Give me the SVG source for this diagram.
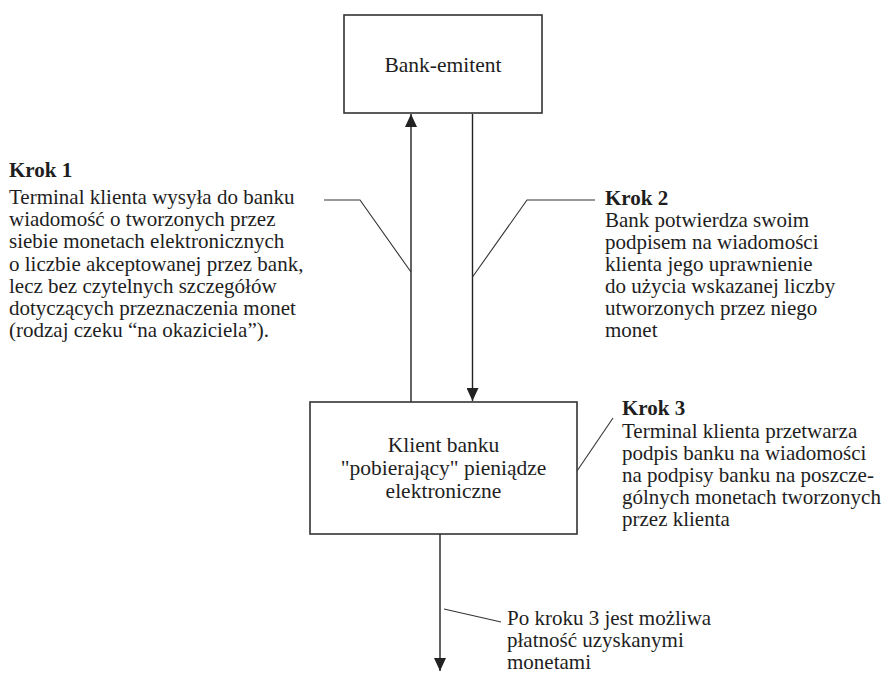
<svg xmlns="http://www.w3.org/2000/svg" width="886" height="673" viewBox="0 0 886 673">
<style>
  .box { fill: #ffffff; stroke: #333333; stroke-width: 1.6; }
  .arrow { fill: none; stroke: #222222; stroke-width: 1.4; }
  .leader { fill: none; stroke: #333333; stroke-width: 1.1; }
  .txt { font-family: "Liberation Serif", "Times New Roman", serif; fill: #1e1e1e; }
  .t { font-size: 21px; }
  .h { font-size: 21px; font-weight: bold; }
  .bt { font-size: 21.5px; text-anchor: middle; }
</style>
<defs>
  <marker id="ah" viewBox="0 0 13 12" refX="13" refY="6" markerWidth="13" markerHeight="12" markerUnits="userSpaceOnUse" orient="auto">
    <path d="M0,0 L13,6 L0,12 Z" fill="#222222"/>
  </marker>
</defs>
<rect width="886" height="673" fill="#ffffff"/>

<g id="connectors">
  <line class="arrow" x1="411" y1="402" x2="411" y2="114" marker-end="url(#ah)"/>
  <line class="arrow" x1="472.5" y1="114" x2="472.5" y2="401" marker-end="url(#ah)"/>
  <line class="arrow" x1="440" y1="534" x2="440" y2="671" marker-end="url(#ah)"/>
  <polyline class="leader" points="324,200 360,200 411,272"/>
  <polyline class="leader" points="595,200 527,200 472.5,277"/>
  <line class="leader" x1="577" y1="471" x2="613" y2="418"/>
  <line class="leader" x1="444" y1="609" x2="501" y2="622"/>
</g>

<g id="bank-emitent" class="txt">
  <rect class="box" x="344" y="15" width="198" height="98"/>
  <text class="bt" x="443" y="72">Bank-emitent</text>
</g>

<g id="klient-banku" class="txt">
  <rect class="box" x="310" y="402" width="267" height="132"/>
  <text class="bt" x="443.5" y="452">Klient banku</text>
  <text class="bt" x="443.5" y="475">"pobierający" pieniądze</text>
  <text class="bt" x="443.5" y="498">elektroniczne</text>
</g>

<g id="krok1" class="txt">
  <text class="h" x="9" y="177">Krok 1</text>
  <text class="t" x="9" y="204">Terminal klienta wysyła do banku</text>
  <text class="t" x="9" y="226">wiadomość o tworzonych przez</text>
  <text class="t" x="9" y="248">siebie monetach elektronicznych</text>
  <text class="t" x="9" y="270.5">o liczbie akceptowanej przez bank,</text>
  <text class="t" x="9" y="293">lecz bez czytelnych szczegółów</text>
  <text class="t" x="9" y="315">dotyczących przeznaczenia monet</text>
  <text class="t" x="9" y="337">(rodzaj czeku “na okaziciela”).</text>
</g>

<g id="krok2" class="txt">
  <text class="h" x="605" y="205">Krok 2</text>
  <text class="t" x="605" y="227">Bank potwierdza swoim</text>
  <text class="t" x="605" y="249">podpisem na wiadomości</text>
  <text class="t" x="605" y="271">klienta jego uprawnienie</text>
  <text class="t" x="605" y="293">do użycia wskazanej liczby</text>
  <text class="t" x="605" y="315">utworzonych przez niego</text>
  <text class="t" x="605" y="337">monet</text>
</g>

<g id="krok3" class="txt">
  <text class="h" x="622" y="415">Krok 3</text>
  <text class="t" x="622" y="438">Terminal klienta przetwarza</text>
  <text class="t" x="622" y="460">podpis banku na wiadomości</text>
  <text class="t" x="622" y="482">na podpisy banku na poszcze-</text>
  <text class="t" x="622" y="504">gólnych monetach tworzonych</text>
  <text class="t" x="622" y="526">przez klienta</text>
</g>

<g id="po-kroku-3" class="txt">
  <text class="t" x="507" y="625">Po kroku 3 jest możliwa</text>
  <text class="t" x="507" y="647">płatność uzyskanymi</text>
  <text class="t" x="507" y="669">monetami</text>
</g>
</svg>
